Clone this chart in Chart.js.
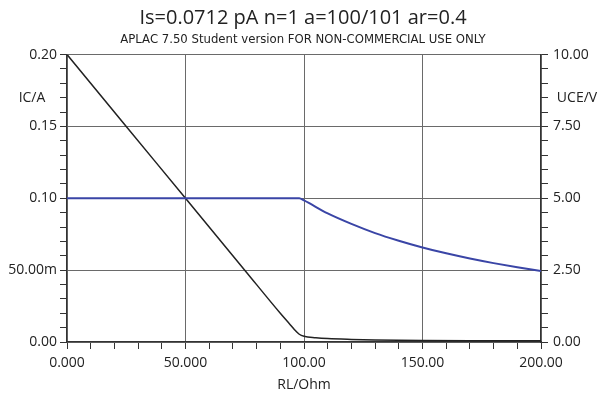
<!DOCTYPE html>
<html>
<head>
<meta charset="utf-8">
<script src="https://cdn.jsdelivr.net/npm/chart.js@4.4.0/dist/chart.umd.min.js"></script>
<style>
  html, body { margin: 0; padding: 0; background: #fff; }
  #wrap { width: 606px; height: 396px; }
</style>
</head>
<body>
<div id="wrap"><canvas id="aplacChart" width="606" height="396"></canvas></div>
<script>
// RL sweep / collector current (left axis)
const rlIC = [0, 20, 40, 60, 80, 98, 100, 110, 120, 130, 140, 150, 160, 170, 180, 190, 200];
const icValues = [0.100, 0.100, 0.100, 0.100, 0.100, 0.100, 0.0985, 0.0895, 0.0822, 0.0758, 0.0705, 0.0658, 0.0617, 0.0581, 0.0549, 0.0520, 0.0494];

// RL sweep / collector-emitter voltage (right axis)
const rlUCE = [0, 25, 50, 75, 90, 94, 96, 98, 100, 105, 110, 120, 130, 150, 170, 200];
const uceValues = [10.0, 7.5, 5.0, 2.5, 1.0, 0.62, 0.43, 0.27, 0.20, 0.15, 0.12, 0.09, 0.07, 0.05, 0.04, 0.04];

// tick labels
const xTickLabels = ['0.000', '50.000', '100.00', '150.00', '200.00'];
const icTickLabels = ['0.00', '50.00m', '0.10', '0.15', '0.20'];
const uceTickLabels = ['0.00', '2.50', '5.00', '7.50', '10.00'];

const FONT = "'Open Sans', 'DejaVu Sans', sans-serif";
const GRID = '#6a6a6a';
const AXIS = '#333';

function toPoints(xs, ys) {
    return xs.map((x, i) => ({x: x, y: ys[i]}));
}

// axis names next to the top of each y axis
const axisNames = {
    id: 'axisNames',
    afterDraw(chart) {
        const c = chart.ctx;
        const area = chart.chartArea;
        c.save();
        c.fillStyle = '#222';
        c.font = '14px ' + FONT;
        c.textBaseline = 'middle';
        c.textAlign = 'center';
        c.fillText('IC/A', 32, area.top + 43);
        c.fillText('UCE/V', 577, area.top + 43);
        c.restore();
    }
};

const ctx = document.getElementById('aplacChart').getContext('2d');
new Chart(ctx, {
    type: 'line',
    data: {
        datasets: [
            {
                label: 'IC',
                data: toPoints(rlIC, icValues),
                yAxisID: 'yIC',
                borderColor: '#3a45a6',
                borderWidth: 2,
                pointRadius: 0,
                cubicInterpolationMode: 'monotone',
                fill: false
            },
            {
                label: 'UCE',
                data: toPoints(rlUCE, uceValues),
                yAxisID: 'yUCE',
                borderColor: '#222',
                borderWidth: 1.5,
                pointRadius: 0,
                cubicInterpolationMode: 'monotone',
                fill: false
            }
        ]
    },
    options: {
        responsive: false,
        animation: false,
        layout: {padding: {top: 0, right: 0, bottom: 0, left: 0}},
        plugins: {
            legend: {display: false},
            tooltip: {enabled: false},
            title: {
                display: true,
                text: 'Is=0.0712 pA n=1 a=100/101 ar=0.4',
                color: '#222',
                font: {family: FONT, size: 20, weight: 'normal'},
                padding: {top: 6, bottom: 2}
            },
            subtitle: {
                display: true,
                text: 'APLAC 7.50 Student version FOR NON-COMMERCIAL USE ONLY',
                color: '#222',
                font: {family: "'Liberation Sans Narrow', 'DejaVu Sans Condensed', sans-serif", size: 13},
                padding: {top: 0, bottom: 7}
            }
        },
        scales: {
            x: {
                type: 'linear',
                min: 0,
                max: 200,
                ticks: {
                    stepSize: 10,
                    autoSkip: false,
                    maxRotation: 0,
                    color: '#222',
                    font: {family: FONT, size: 14},
                    padding: 6,
                    callback: (v) => (Math.round(v) % 50 === 0 ? xTickLabels[Math.round(v) / 50] : '')
                },
                grid: {
                    color: (c) => (Math.round(c.tick.value) % 50 === 0 ? GRID : 'rgba(0,0,0,0)'),
                    tickColor: AXIS,
                    tickLength: 7
                },
                border: {color: AXIS, width: 1.2},
                title: {
                    display: true,
                    text: 'RL/Ohm',
                    color: '#222',
                    font: {family: FONT, size: 14},
                    padding: {top: 2, bottom: 3}
                },
                afterFit: (s) => { s.height = 54; }
            },
            yIC: {
                type: 'linear',
                position: 'left',
                min: 0,
                max: 0.2,
                ticks: {
                    stepSize: 0.01,
                    autoSkip: false,
                    color: '#222',
                    font: {family: FONT, size: 14},
                    padding: 3,
                    callback: (v) => {
                        const k = Math.round(v / 0.01);
                        return k % 5 === 0 ? icTickLabels[k / 5] : '';
                    }
                },
                grid: {
                    color: (c) => (Math.round(c.tick.value / 0.01) % 5 === 0 ? GRID : 'rgba(0,0,0,0)'),
                    tickColor: AXIS,
                    tickLength: 7
                },
                border: {color: AXIS, width: 1.2},
                afterFit: (s) => { s.width = 67; }
            },
            yUCE: {
                type: 'linear',
                position: 'right',
                min: 0,
                max: 10,
                ticks: {
                    stepSize: 0.5,
                    autoSkip: false,
                    color: '#222',
                    font: {family: FONT, size: 14},
                    padding: 5,
                    callback: (v) => {
                        const k = Math.round(v / 0.5);
                        return k % 5 === 0 ? uceTickLabels[k / 5] : '';
                    }
                },
                grid: {
                    drawOnChartArea: false,
                    color: AXIS,
                    tickColor: AXIS,
                    tickLength: 7
                },
                border: {color: AXIS, width: 1.2},
                afterFit: (s) => { s.width = 65; }
            }
        }
    },
    plugins: [axisNames]
});
</script>
</body>
</html>
